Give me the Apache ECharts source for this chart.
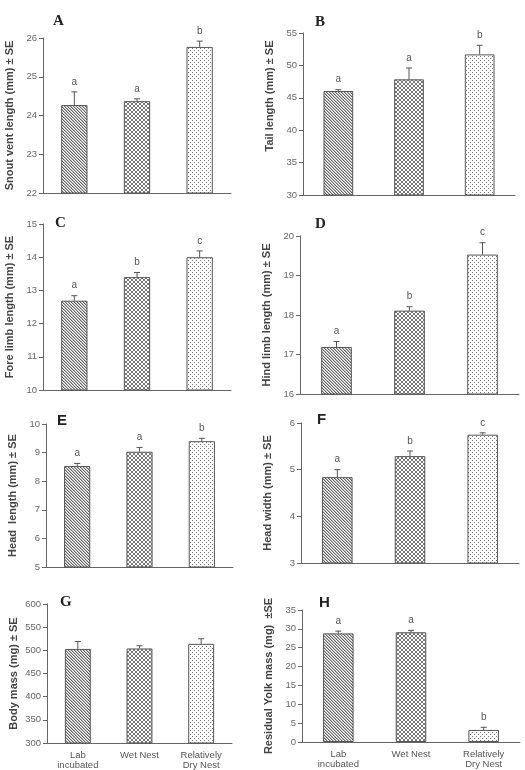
<!DOCTYPE html>
<html>
<head>
<meta charset="utf-8">
<script src="https://cdn.jsdelivr.net/npm/echarts@6/dist/echarts.min.js"></script>
<style>
html, body { margin: 0; padding: 0; background: #fff; }
#chart { width: 525px; height: 770px; }
</style>
</head>
<body>
<div id="chart"></div>
<script>
// treatment groups (x categories)
var groups = ['Lab\nincubated', 'Wet Nest', 'Relatively\nDry Nest'];

// A - snout vent length
var svlMean = [24.27, 24.37, 25.77];
var svlSe = [0.34, 0.06, 0.15];
var svlSig = ['a', 'a', 'b'];
var svlTicks = [22, 26, 1];

// B - tail length
var tailMean = [46.05, 47.85, 51.7];
var tailSe = [0.2, 1.75, 1.4];
var tailSig = ['a', 'a', 'b'];
var tailTicks = [30, 55, 5];

// C - fore limb length
var foreMean = [12.69, 13.4, 14.0];
var foreSe = [0.15, 0.14, 0.19];
var foreSig = ['a', 'b', 'c'];
var foreTicks = [10, 15, 1];

// D - hind limb length
var hindMean = [17.19, 18.11, 19.53];
var hindSe = [0.14, 0.1, 0.3];
var hindSig = ['a', 'b', 'c'];
var hindTicks = [16, 20, 1];

// E - head length
var headLMean = [8.53, 9.03, 9.4];
var headLSe = [0.09, 0.15, 0.1];
var headLSig = ['a', 'a', 'b'];
var headLTicks = [5, 10, 1];

// F - head width
var headWMean = [4.84, 5.29, 5.75];
var headWSe = [0.16, 0.11, 0.04];
var headWSig = ['a', 'b', 'c'];
var headWTicks = [3, 6, 1];

// G - body mass
var massMean = [503, 504, 514];
var massSe = [16, 6, 11];
var massSig = ['', '', ''];
var massTicks = [300, 600, 50];

// H - residual yolk mass
var yolkMean = [28.8, 29.1, 3.2];
var yolkSe = [0.6, 0.5, 0.7];
var yolkSig = ['a', 'a', 'b'];
var yolkTicks = [0, 35, 5];

var panels = [
  { tag: 'A', name: 'Snout vent length (mm) \u00b1 SE', mean: svlMean, se: svlSe, sig: svlSig, ticks: svlTicks },
  { tag: 'B', name: 'Tail length (mm) \u00b1 SE', mean: tailMean, se: tailSe, sig: tailSig, ticks: tailTicks },
  { tag: 'C', name: 'Fore limb length (mm) \u00b1 SE', mean: foreMean, se: foreSe, sig: foreSig, ticks: foreTicks },
  { tag: 'D', name: 'Hind limb length (mm) \u00b1 SE', mean: hindMean, se: hindSe, sig: hindSig, ticks: hindTicks },
  { tag: 'E', name: 'Head  length (mm) \u00b1 SE', mean: headLMean, se: headLSe, sig: headLSig, ticks: headLTicks },
  { tag: 'F', name: 'Head width (mm) \u00b1 SE', mean: headWMean, se: headWSe, sig: headWSig, ticks: headWTicks },
  { tag: 'G', name: 'Body mass (mg) \u00b1 SE', mean: massMean, se: massSe, sig: massSig, ticks: massTicks },
  { tag: 'H', name: 'Residual Yolk mass (mg)  \u00b1SE', mean: yolkMean, se: yolkSe, sig: yolkSig, ticks: yolkTicks }
];

// grid boxes, pixels
var boxes = [
  { left: 43, top: 38, width: 188, height: 155 },
  { left: 303, top: 33, width: 212, height: 162 },
  { left: 43, top: 224, width: 188, height: 166 },
  { left: 300, top: 236, width: 219, height: 158 },
  { left: 46, top: 424, width: 187, height: 143 },
  { left: 301, top: 423, width: 218, height: 140 },
  { left: 47, top: 604, width: 185, height: 139 },
  { left: 302, top: 610, width: 218, height: 132 }
];
var tagPos = [[53, 14], [315, 15], [55, 216], [315, 217], [57, 413], [317, 412], [60, 595], [319, 595]];
var tagFont = ['serif', 'serif', 'serif', 'serif', 'sans-serif', 'sans-serif', 'serif', 'sans-serif'];
// axis title nudged upward (px) where the original sits off-centre
var nameLift = [0, 36, 0, 0, 0, 0, 0, 0];

// hatch fills
function makePattern(kind) {
  var c = document.createElement('canvas');
  var s = kind === 'diag' ? 3 : 4;
  c.width = s; c.height = s;
  var ctx = c.getContext('2d');
  ctx.fillStyle = '#fff';
  ctx.fillRect(0, 0, s, s);
  if (kind === 'diag') {
    for (var i = 0; i < s; i++) {
      ctx.fillStyle = '#666'; ctx.fillRect(i, i, 1, 1);
      ctx.fillStyle = '#bbb'; ctx.fillRect((i + 1) % s, i, 1, 1);
    }
  } else if (kind === 'cross') {
    ctx.fillStyle = '#777';
    for (var j = 0; j < s; j++) {
      ctx.fillRect(j, j, 1, 1);
      ctx.fillRect(s - 1 - j, j, 1, 1);
    }
  } else {
    ctx.fillStyle = '#777';
    ctx.fillRect(0, 0, 1, 1);
    ctx.fillRect(2, 2, 1, 1);
  }
  return { image: c, repeat: 'repeat' };
}
var fills = [makePattern('diag'), makePattern('cross'), makePattern('dots')];

function errRender(sig) {
  return function (params, api) {
    var p0 = api.coord([api.value(0), api.value(1)]);
    var p1 = api.coord([api.value(0), api.value(2)]);
    var kids = [
      { type: 'line', shape: { x1: p0[0], y1: p0[1], x2: p1[0], y2: p1[1] }, style: { stroke: '#555', lineWidth: 1 } },
      { type: 'line', shape: { x1: p1[0] - 3, y1: p1[1], x2: p1[0] + 3, y2: p1[1] }, style: { stroke: '#555', lineWidth: 1 } }
    ];
    var s = sig[params.dataIndex];
    if (s) {
      kids.push({ type: 'text', x: p1[0], y: p1[1] - 10,
        style: { text: s, align: 'center', verticalAlign: 'middle', fill: '#555', fontSize: 10, fontFamily: 'Liberation Sans, Arial' } });
    }
    return { type: 'group', children: kids };
  };
}

var option = {
  animation: false,
  backgroundColor: '#fff',
  textStyle: { fontFamily: 'Liberation Sans, Arial, sans-serif' },
  title: [], grid: [], xAxis: [], yAxis: [], series: []
};

panels.forEach(function (p, k) {
  var b = boxes[k];
  var showCats = k >= 6;
  option.title.push({
    text: p.tag, left: tagPos[k][0], top: tagPos[k][1], padding: 0,
    textStyle: { fontSize: 15, fontWeight: 'bold', color: '#222', fontFamily: tagFont[k] }
  });
  option.grid.push({ left: b.left, top: b.top, width: b.width, height: b.height });
  option.xAxis.push({
    type: 'category', gridIndex: k, data: groups,
    axisLine: { lineStyle: { color: '#666' } },
    axisTick: { length: 4, lineStyle: { color: '#666' } },
    axisLabel: { show: showCats, interval: 0, color: '#555', fontSize: 9.5, lineHeight: 10, margin: 7 }
  });
  option.yAxis.push({
    type: 'value', gridIndex: k,
    min: p.ticks[0], max: p.ticks[1], interval: p.ticks[2],
    name: p.name, nameLocation: 'middle', nameRotate: 90, nameGap: 28,
    nameTextStyle: { fontSize: 11, fontWeight: 'bold', color: '#444', padding: [0, 0, 0, nameLift[k]] },
    axisLine: { show: true, lineStyle: { color: '#666' } },
    axisTick: { show: true, length: 4, lineStyle: { color: '#666' } },
    axisLabel: { color: '#666', fontSize: 9.5, margin: 6 },
    splitLine: { show: false }
  });
  option.series.push({
    type: 'bar', xAxisIndex: k, yAxisIndex: k, barWidth: '42%',
    data: p.mean.map(function (v, i) {
      return { value: v, itemStyle: { color: fills[i], borderColor: '#555', borderWidth: 1 } };
    })
  });
  option.series.push({
    type: 'custom', xAxisIndex: k, yAxisIndex: k, clip: false,
    renderItem: errRender(p.sig),
    data: p.mean.map(function (v, i) { return [i, v, v + p.se[i]]; }),
    z: 5
  });
});

var chart = echarts.init(document.getElementById('chart'));
chart.setOption(option);
</script>
</body>
</html>
